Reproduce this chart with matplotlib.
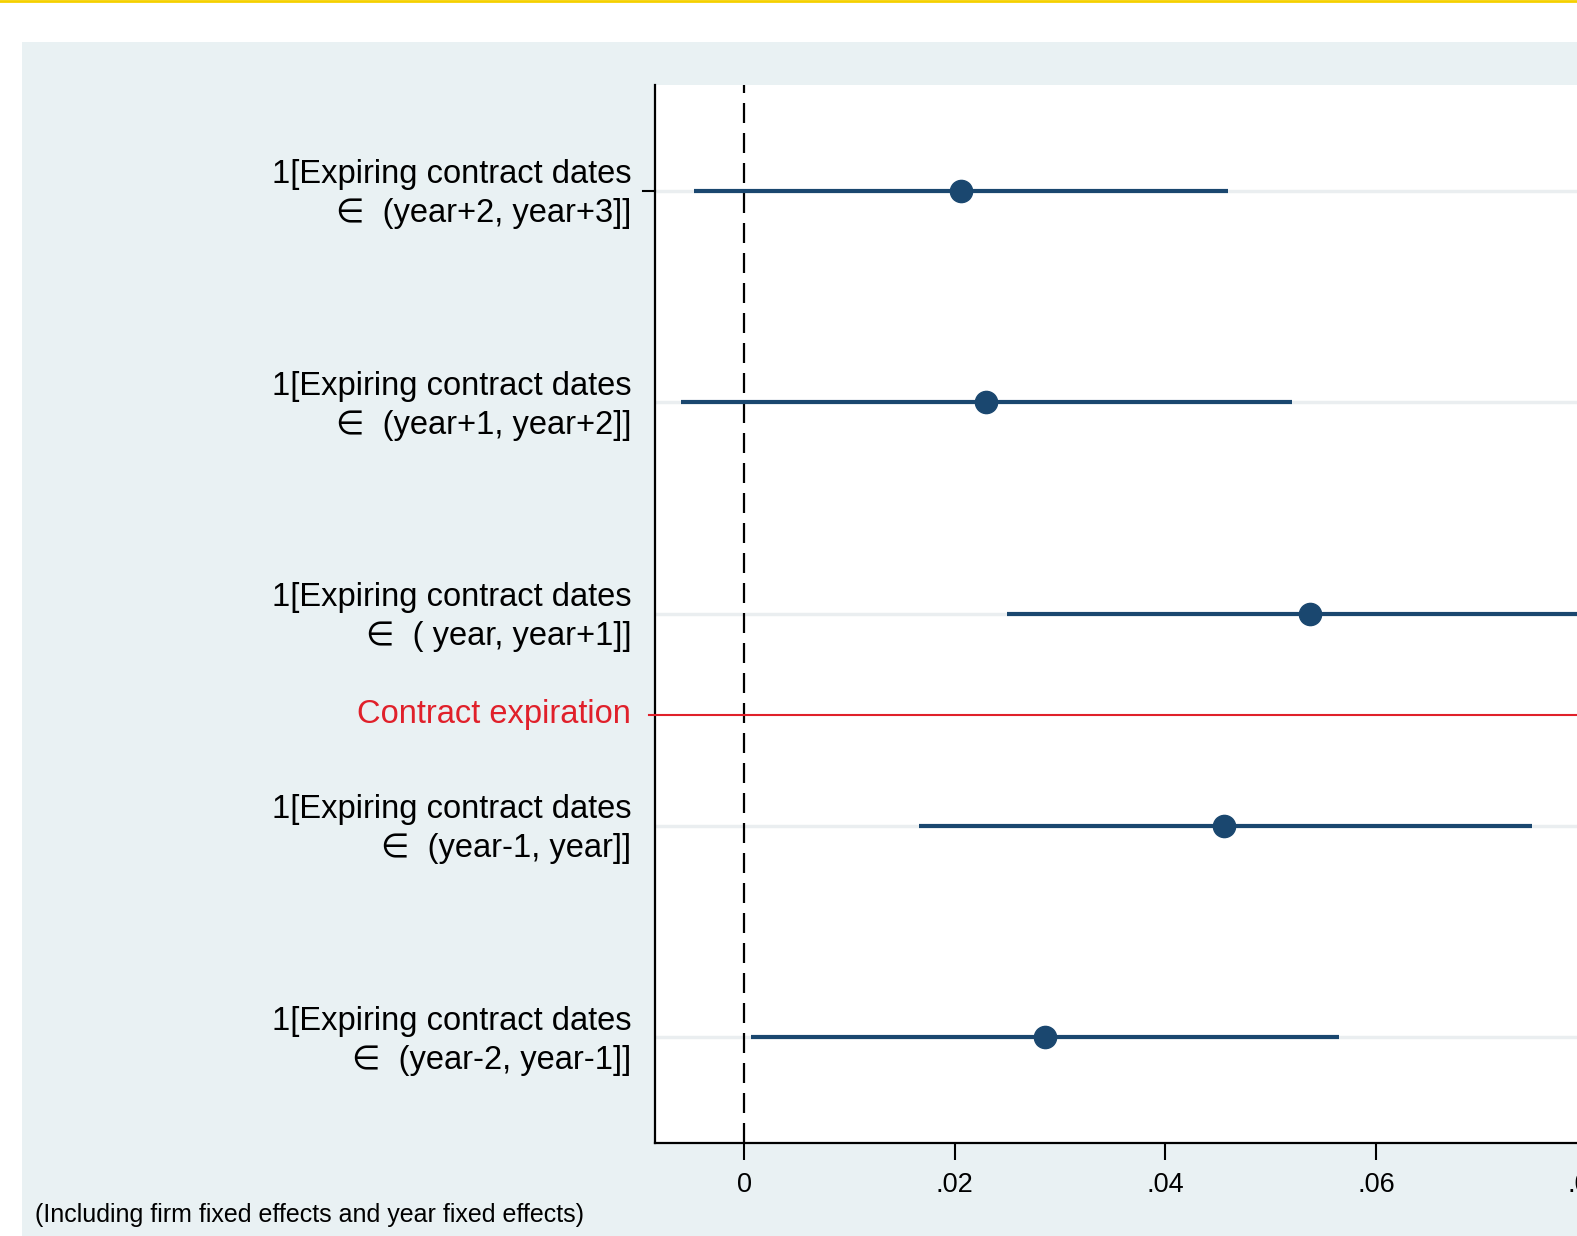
import matplotlib
matplotlib.use('Agg')
import matplotlib.pyplot as plt
import matplotlib.patches as patches
from matplotlib.lines import Line2D
from matplotlib.ticker import FuncFormatter
from matplotlib.transforms import ScaledTranslation

plt.rcParams['font.family'] = ['Liberation Sans', 'DejaVu Sans']

# --------        data        --------
labels = [
    '1[Expiring contract dates\n\u2208  (year+2, year+3]]',
    '1[Expiring contract dates\n\u2208  (year+1, year+2]]',
    '1[Expiring contract dates\n\u2208  ( year, year+1]]',
    '1[Expiring contract dates\n\u2208  (year-1, year]]',
    '1[Expiring contract dates\n\u2208  (year-2, year-1]]',
]
rows = [1, 2, 3, 4, 5]
coef = [0.0206, 0.0230, 0.0537, 0.0456, 0.0286]
ci_low = [-0.0047, -0.0060, 0.0250, 0.0166, 0.0007]
ci_high = [0.0459, 0.0520, 0.0823, 0.0748, 0.0565]
expiration_row = 3.475
xticks = [0, 0.02, 0.04, 0.06, 0.08]

W, H = 1577, 1236
navy = '#1a476f'
panel = '#e9f1f3'

fig = plt.figure(figsize=(W / 100, H / 100), dpi=100)
fig.patch.set_facecolor('white')

# background panel and the thin yellow rule on top
fig.add_artist(patches.Rectangle((22 / W, 0), 1, 1 - 42 / H, transform=fig.transFigure,
                                 facecolor=panel, edgecolor='none', zorder=0))
fig.add_artist(Line2D([0, 1], [1 - 1 / H, 1 - 1 / H], transform=fig.transFigure,
                      color='#f5d000', linewidth=2))

# axes run past the right edge of the picture (the source is cropped)
left, right = 655, 1655
top, bottom = 85, 1143
x0, step = 744, 210.7
ax = fig.add_axes([left / W, 1 - bottom / H, (right - left) / W, (bottom - top) / H])
ax.set_facecolor('white')

px = 0.02 / step
ax.set_xlim((left - x0) * px, (right - x0) * px)
ax.set_ylim(5.5, 0.5)

# light grid lines at each row
for r in rows:
    ax.axhline(r, color='#eaeef0', linewidth=2.5, zorder=1)

ax.axvline(0, color='black', linestyle=(0, (9, 4.5)), linewidth=1.6, zorder=2)

ax.hlines(rows, ci_low, ci_high, color=navy, linewidth=3, zorder=3)
ax.plot(coef, rows, 'o', color=navy, markersize=16, zorder=4)

ax.axhline(expiration_row, xmin=-0.006, color='#e0202a', linewidth=1.5, zorder=3, clip_on=False)
ax.text(-0.024, expiration_row, 'Contract expiration', transform=ax.get_yaxis_transform(),
        ha='right', va='center', color='#e0202a', fontsize=23.5)

ax.set_yticks(rows)
ax.set_yticklabels(labels, fontsize=23.5, linespacing=1.33, ha='right')
ax.tick_params(axis='y', length=0, pad=17)
shift = ScaledTranslation(0, 4 / 100, fig.dpi_scale_trans)
for lab in ax.get_yticklabels():
    lab.set_transform(lab.get_transform() + shift)
# only the first row carries a tick mark in the source
ax.add_line(Line2D([-0.012, 0], [1, 1], transform=ax.get_yaxis_transform(),
                   color='black', linewidth=1.5, clip_on=False))

ax.set_xticks(xticks)
ax.xaxis.set_major_formatter(FuncFormatter(lambda v, p: '0' if v == 0 else f'{v:.2f}'.lstrip('0')))
ax.tick_params(axis='x', length=12, width=1.5, labelsize=19.5, pad=9, direction='out')

for s in ['top', 'right']:
    ax.spines[s].set_visible(False)
for s in ['left', 'bottom']:
    ax.spines[s].set_linewidth(1.6)

fig.text(35 / W, 1 - 1215 / H, '(Including firm fixed effects and year fixed effects)',
         ha='left', va='center', fontsize=18)

fig.savefig('out.png', dpi=100)
